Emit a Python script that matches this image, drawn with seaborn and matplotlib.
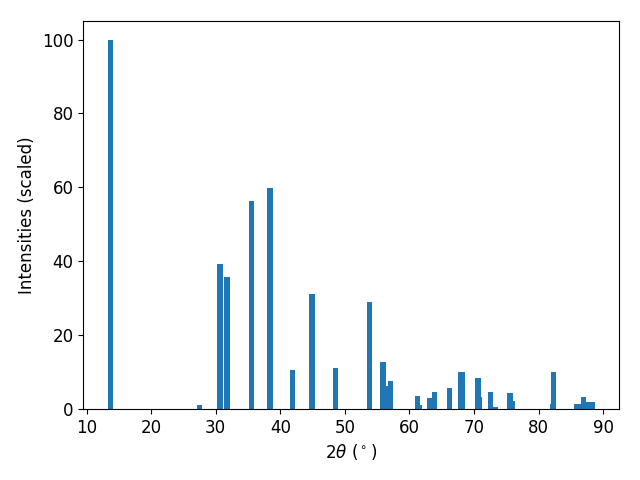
import matplotlib
matplotlib.use("Agg")
import matplotlib.pyplot as plt
import seaborn as sns

# peak positions (2theta, degrees) and scaled intensities
two_theta = [13.65, 27.55, 30.65, 31.75, 35.6, 38.4, 41.95, 44.9, 48.6,
             53.85, 55.9, 56.8, 57.1, 61.3, 61.6, 63.15, 63.9, 66.25,
             67.85, 68.2, 70.6, 70.9, 72.6, 73.35, 75.55, 76.0,
             82.15, 82.35, 85.85, 86.15, 87.0, 87.75, 88.25]
intensity = [100.0, 1.1, 39.3, 35.8, 56.4, 59.9, 10.6, 31.2, 11.1,
             29.0, 12.7, 6.2, 7.6, 3.5, 1.1, 3.0, 4.6, 5.7,
             10.0, 10.0, 8.4, 3.3, 4.6, 0.5, 4.3, 2.2,
             1.4, 10.0, 1.4, 1.4, 3.3, 1.9, 1.9]

sns.set_style("ticks", rc={
    "axes.edgecolor": "black", "text.color": "black",
    "axes.labelcolor": "black", "xtick.color": "black", "ytick.color": "black",
})
plt.rcParams["font.family"] = ["DejaVu Sans"]

fig, ax = plt.subplots(figsize=(6.4, 4.8), dpi=100)
ax.bar(two_theta, intensity, width=0.8, color=sns.color_palette("tab10")[0],
       linewidth=0)
ax.set_xlabel(r"$2\theta$ ($^\circ$)", fontsize=12)
ax.set_ylabel("Intensities (scaled)", fontsize=12)
ax.tick_params(labelsize=12)
fig.subplots_adjust(left=0.13, right=0.967, top=0.956, bottom=0.148)
plt.savefig("out.png")
